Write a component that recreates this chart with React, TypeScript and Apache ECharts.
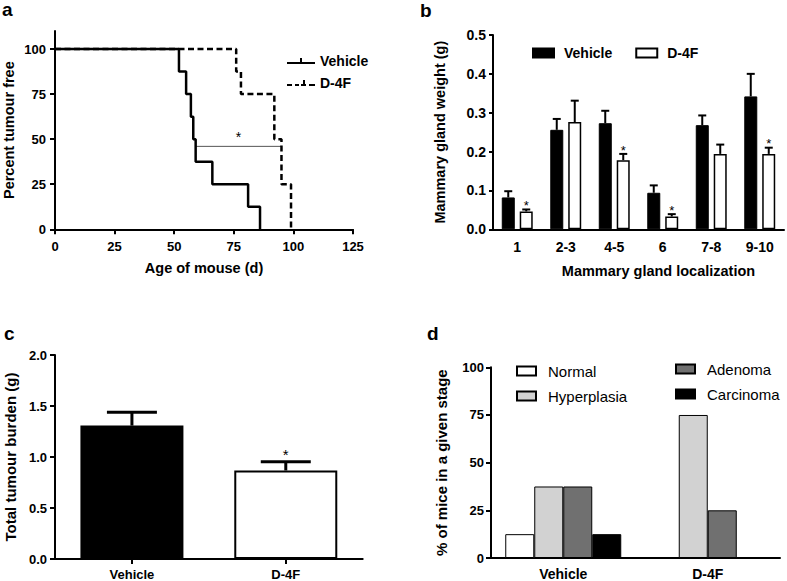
import React, { useEffect, useRef } from 'react';
import * as echarts from 'echarts';

const FONT = '"Liberation Sans", Arial, Helvetica, sans-serif';

// ---------- Panel a: Kaplan-Meier ----------
const vehicleDays = [0, 52, 55, 57, 58, 59, 66, 81, 86];
const vehicleFree = [100, 87.5, 75, 62.5, 50, 37.5, 25, 12.5, 0];
const d4fDays = [0, 76, 78, 92, 95, 99];
const d4fFree = [100, 87.5, 75, 50, 25, 0];
const kmYTicks = [0, 25, 50, 75, 100];
const kmCompare = [[59, 46], [95, 46]];

// ---------- Panel b: mammary gland weight ----------
const glandCats = ['1', '2-3', '4-5', '6', '7-8', '9-10'];
const glandVehicle = [0.082, 0.256, 0.273, 0.094, 0.268, 0.342];
const glandVehicleUpper = [0.098, 0.284, 0.305, 0.113, 0.293, 0.4];
const glandD4F = [0.046, 0.276, 0.178, 0.033, 0.194, 0.194];
const glandD4FUpper = [0.051, 0.331, 0.194, 0.039, 0.218, 0.21];
const glandSig = [1, 0, 1, 1, 0, 1];

// ---------- Panel c: total tumour burden ----------
const burdenCats = ['Vehicle', 'D-4F'];
const burdenMean = [1.308, 0.868];
const burdenUpper = [1.439, 0.953];
const burdenSig = [0, 1];

// ---------- Panel d: stages ----------
const stageCats = ['Vehicle', 'D-4F'];
const stageNormal = [12.5, 0];
const stageHyper = [37.5, 75];
const stageAden = [37.5, 25];
const stageCarc = [12.5, 0];

const axisLine = { show: true, lineStyle: { color: '#000', width: 2 } };
const tickStyle = { lineStyle: { color: '#000', width: 2 } };
const boldLabel = (size: number) => ({ color: '#000', fontFamily: FONT, fontWeight: 'bold' as const, fontSize: size });

function panelLetter(text: string, x: number, y: number) {
  return {
    type: 'text',
    x,
    y,
    style: { text, font: `bold 19px ${FONT}`, fill: '#000', verticalAlign: 'middle', align: 'left' },
  };
}

function errorRender(offset: number, capHalf: number, lw: number, starSize: number, starLift: number) {
  return (params: any, api: any) => {
    const idx = api.value(0);
    const mean = api.value(1);
    const up = api.value(2);
    const sig = api.value(3);
    const p0 = api.coord([idx, mean]);
    const p1 = api.coord([idx, up]);
    const x = p0[0] + offset;
    const st = { stroke: '#000', lineWidth: lw };
    const children: any[] = [
      { type: 'line', shape: { x1: x, y1: p0[1], x2: x, y2: p1[1] }, style: st },
      { type: 'line', shape: { x1: x - capHalf, y1: p1[1], x2: x + capHalf, y2: p1[1] }, style: st },
    ];
    if (sig) {
      children.push({
        type: 'text',
        x,
        y: p1[1] - starLift,
        style: { text: '*', fontSize: starSize, fontFamily: FONT, fill: '#000', align: 'center', verticalAlign: 'middle' },
      });
    }
    return { type: 'group', children };
  };
}

const optionA: any = {
  animation: false,
  graphic: [panelLetter('a', 2, 9.5)],
  legend: {
    orient: 'vertical',
    left: 287,
    top: 54,
    padding: 0,
    itemWidth: 28,
    itemHeight: 14,
    itemGap: 8,
    itemStyle: { borderWidth: 0 },
    textStyle: { ...boldLabel(14) },
    data: [
      { name: 'Vehicle', icon: 'path://M0,5h28v2h-28z M13,1h2v5h-2z' },
      { name: 'D-4F', icon: 'path://M0,5h5v2h-5z M8,5h4v2h-4z M14,5h5v2h-5z M16,1h2v5h-2z M22,5h6v2h-6z' },
    ],
  },
  grid: { left: 54, top: 31, width: 299, height: 198.3 },
  xAxis: {
    type: 'value',
    min: 0,
    max: 125,
    interval: 25,
    axisLine,
    axisTick: { show: true, length: 5, ...tickStyle },
    splitLine: { show: false },
    axisLabel: { ...boldLabel(13), margin: 11 },
    name: 'Age of mouse (d)',
    nameLocation: 'middle',
    nameGap: 31,
    nameTextStyle: { ...boldLabel(14.5) },
  },
  yAxis: {
    type: 'value',
    min: 0,
    max: 110,
    axisLine,
    axisTick: { show: true, length: 5, customValues: kmYTicks, ...tickStyle },
    splitLine: { show: false },
    axisLabel: { ...boldLabel(13), margin: 9, customValues: kmYTicks },
    name: 'Percent tumour free',
    nameLocation: 'middle',
    nameGap: 39,
    nameTextStyle: { ...boldLabel(14.5) },
  },
  series: [
    {
      name: 'Vehicle',
      type: 'line',
      step: 'end',
      symbol: 'none',
      data: vehicleDays.map((d, i) => [d, vehicleFree[i]]),
      lineStyle: { color: '#000', width: 2.5 },
      itemStyle: { color: '#000' },
      z: 3,
    },
    {
      name: 'D-4F',
      type: 'line',
      step: 'end',
      symbol: 'none',
      data: d4fDays.map((d, i) => [d, d4fFree[i]]),
      lineStyle: { color: '#000', width: 2.5, type: [6, 3.5] },
      itemStyle: { color: '#000' },
      z: 3,
    },
    {
      name: 'compare',
      type: 'line',
      symbol: 'none',
      data: kmCompare,
      lineStyle: { color: '#555', width: 1 },
      z: 2,
      markPoint: {
        symbol: 'circle',
        symbolSize: 0,
        data: [{ coord: [(kmCompare[0][0] + kmCompare[1][0]) / 2, kmCompare[0][1]], value: '*' }],
        label: { show: true, formatter: '*', position: 'top', distance: 2, color: '#000', fontSize: 14, fontFamily: FONT },
      },
    },
  ],
};

const optionB: any = {
  animation: false,
  graphic: [panelLetter('b', 420, 10)],
  legend: {
    left: 532,
    top: 46,
    padding: 0,
    itemWidth: 21,
    itemHeight: 9,
    itemGap: 23,
    textStyle: { ...boldLabel(14), padding: [0, 0, 0, 5] },
    data: [
      { name: 'Vehicle', icon: 'rect' },
      { name: 'D-4F', icon: 'rect' },
    ],
  },
  grid: { left: 493, top: 35, width: 291, height: 194.3 },
  xAxis: {
    type: 'category',
    data: glandCats,
    axisLine,
    axisTick: { show: false },
    axisLabel: { ...boldLabel(14), margin: 11 },
    name: 'Mammary gland localization',
    nameLocation: 'middle',
    nameGap: 34,
    nameTextStyle: { ...boldLabel(14.5), padding: [0, 0, 0, 40] },
  },
  yAxis: {
    type: 'value',
    min: 0,
    max: 0.5,
    interval: 0.1,
    axisLine,
    axisTick: { show: true, length: 4, ...tickStyle },
    splitLine: { show: false },
    axisLabel: { ...boldLabel(14), margin: 7, formatter: (v: number) => v.toFixed(1) },
    name: 'Mammary gland weight (g)',
    nameLocation: 'middle',
    nameGap: 46,
    nameTextStyle: { ...boldLabel(14.5) },
  },
  series: [
    {
      name: 'Vehicle',
      type: 'bar',
      data: glandVehicle,
      barWidth: 13,
      barGap: '38%',
      itemStyle: { color: '#000', borderColor: '#000', borderWidth: 1 },
    },
    {
      name: 'D-4F',
      type: 'bar',
      data: glandD4F,
      barWidth: 13,
      barGap: '38%',
      itemStyle: { color: '#fff', borderColor: '#000', borderWidth: 1.5 },
    },
    {
      name: 'Vehicle SEM',
      type: 'custom',
      renderItem: errorRender(-9, 4, 2, 13, 3.8),
      data: glandCats.map((_, i) => [i, glandVehicle[i], glandVehicleUpper[i], 0]),
      z: 5,
    },
    {
      name: 'D-4F SEM',
      type: 'custom',
      renderItem: errorRender(9, 4, 2, 13, 3.8),
      data: glandCats.map((_, i) => [i, glandD4F[i], glandD4FUpper[i], glandSig[i]]),
      z: 5,
    },
  ],
};

const optionC: any = {
  animation: false,
  graphic: [panelLetter('c', 4, 333.5)],
  grid: { left: 55, top: 355, width: 307.7, height: 204.3 },
  xAxis: {
    type: 'category',
    data: burdenCats,
    axisLine,
    axisTick: { show: true, alignWithLabel: true, length: 5, ...tickStyle },
    axisLabel: { ...boldLabel(13), margin: 9 },
  },
  yAxis: {
    type: 'value',
    min: 0,
    max: 2,
    interval: 0.5,
    axisLine,
    axisTick: { show: true, length: 5, ...tickStyle },
    splitLine: { show: false },
    axisLabel: { ...boldLabel(13), margin: 8, formatter: (v: number) => v.toFixed(1) },
    name: 'Total tumour burden (g)',
    nameLocation: 'middle',
    nameGap: 37,
    nameTextStyle: { ...boldLabel(15) },
  },
  series: [
    {
      name: 'Burden',
      type: 'bar',
      barWidth: 103,
      data: burdenMean.map((v, i) => ({
        value: v,
        itemStyle: i === 0
          ? { color: '#000', borderColor: '#000', borderWidth: 2 }
          : { color: '#fff', borderColor: '#000', borderWidth: 2 },
      })),
    },
    {
      name: 'Burden SEM',
      type: 'custom',
      renderItem: errorRender(0, 25, 3, 15, 7.7),
      data: burdenCats.map((_, i) => [i, burdenMean[i], burdenUpper[i], burdenSig[i]]),
      z: 5,
    },
  ],
};

const stageSeries = (name: string, data: number[], color: string) => ({
  name,
  type: 'bar',
  data,
  barWidth: 29,
  barGap: '0%',
  itemStyle: { color, borderColor: '#000', borderWidth: 1 },
});

const legendD = (names: string[], left: number, top: number) => ({
  orient: 'vertical',
  left,
  top,
  padding: 0,
  itemWidth: 19,
  itemHeight: 9,
  itemGap: 10,
  icon: 'rect',
  textStyle: { color: '#000', fontFamily: FONT, fontSize: 15, lineHeight: 15, padding: [0, 0, 0, 7] },
  data: names,
});

const optionD: any = {
  animation: false,
  graphic: [panelLetter('d', 427, 333.5)],
  legend: [legendD(['Normal', 'Hyperplasia'], 516, 363.5), legendD(['Adenoma', 'Carcinoma'], 675, 361.5)],
  grid: { left: 491, top: 367.3, width: 289, height: 192 },
  xAxis: {
    type: 'category',
    data: stageCats,
    axisLine,
    axisTick: { show: false },
    axisLabel: { ...boldLabel(14), margin: 9 },
  },
  yAxis: {
    type: 'value',
    min: 0,
    max: 100,
    interval: 25,
    axisLine,
    axisTick: { show: true, length: 5, ...tickStyle },
    splitLine: { show: false },
    axisLabel: { ...boldLabel(13), margin: 7 },
    name: '% of mice in a given stage',
    nameLocation: 'middle',
    nameGap: 42,
    nameTextStyle: { ...boldLabel(15) },
  },
  series: [
    stageSeries('Normal', stageNormal, '#ffffff'),
    stageSeries('Hyperplasia', stageHyper, '#d2d2d2'),
    stageSeries('Adenoma', stageAden, '#707070'),
    stageSeries('Carcinoma', stageCarc, '#000000'),
  ],
};

const OPTIONS = [optionA, optionB, optionC, optionD];

export default function App() {
  const refs = [useRef<HTMLDivElement>(null), useRef<HTMLDivElement>(null), useRef<HTMLDivElement>(null), useRef<HTMLDivElement>(null)];
  useEffect(() => {
    const charts = refs.map((r, i) => {
      const c = echarts.init(r.current as HTMLDivElement, undefined, { renderer: 'svg' });
      c.setOption(OPTIONS[i]);
      return c;
    });
    return () => charts.forEach((c) => c.dispose());
  }, []);
  return (
    <div style={{ position: 'fixed', left: 0, top: 0, width: 787, height: 581, background: '#fff' }}>
      {refs.map((r, i) => (
        <div key={i} ref={r} style={{ position: 'absolute', left: 0, top: 0, width: 787, height: 581 }} />
      ))}
    </div>
  );
}
